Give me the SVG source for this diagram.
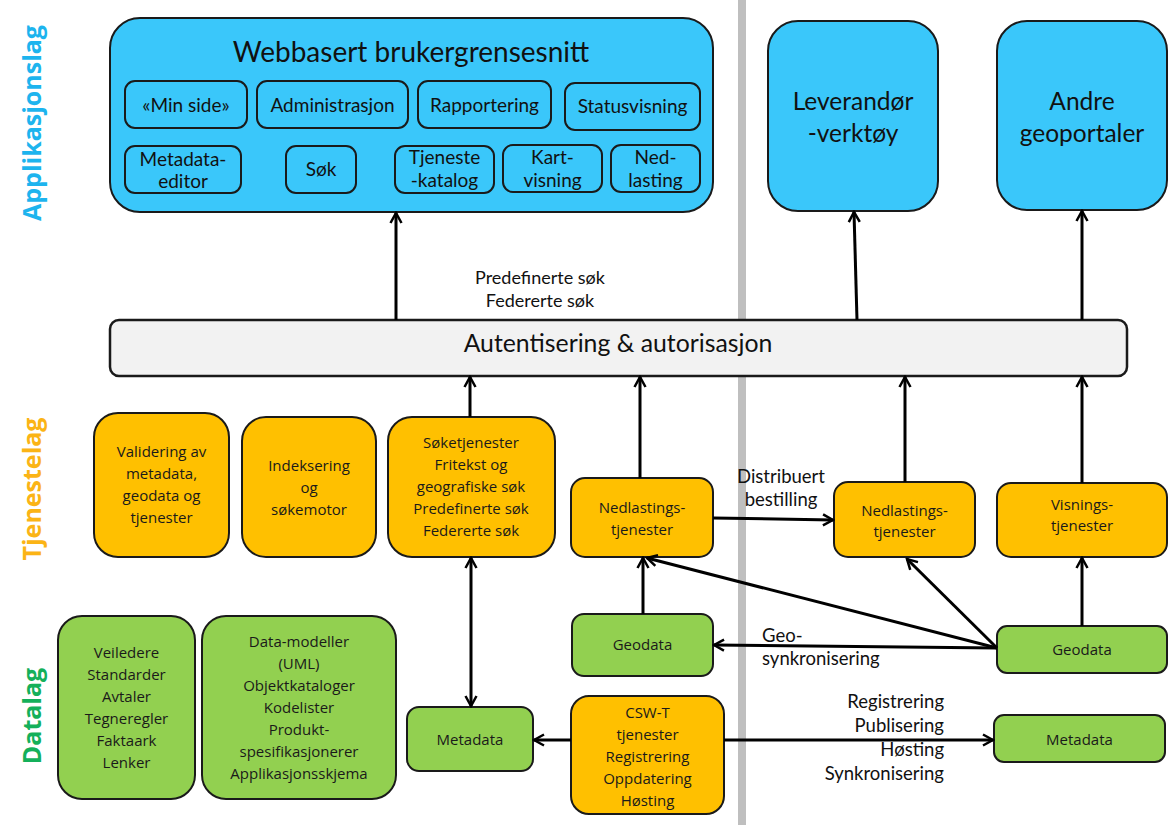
<svg xmlns="http://www.w3.org/2000/svg" width="1168" height="825" viewBox="0 0 1168 825">
<style>
.blue{fill:#3ac7fa;stroke:#1a1a1a;stroke-width:2}
.sub{fill:#3ac7fa;stroke:#1a1a1a;stroke-width:2}
.orange{fill:#ffc000;stroke:#1a1a1a;stroke-width:2}
.green{fill:#92d050;stroke:#1a1a1a;stroke-width:2}
.bar{fill:#f2f2f2;stroke:#1a1a1a;stroke-width:2.5}
.cal{font-family:Lato,"Liberation Sans",sans-serif;fill:#111}
.sb{font-size:19px}
.lb{font-size:18.5px}
.seg{font-family:"Open Sans","Liberation Sans",sans-serif;fill:#1a1a1a;font-size:15px;text-anchor:middle}
.mid{text-anchor:middle}
.side{font-family:"Open Sans","Liberation Sans",sans-serif;font-weight:bold;font-size:25px;text-anchor:middle}
.con{fill:none;stroke:#000;stroke-width:3}
</style>
<defs>
<marker id="ah" viewBox="0 0 14 14" refX="12" refY="7" markerWidth="14" markerHeight="14" markerUnits="userSpaceOnUse" orient="auto-start-reverse">
<path d="M2,1.5 L12,7 L2,12.5" fill="none" stroke="#000" stroke-width="2.5"/>
</marker>
</defs>
<rect width="1168" height="825" fill="#fff"/>
<rect id="divider" x="738" y="0" width="8" height="825" fill="#bfbfbf"/>

<g id="layer-labels">
<text class="side" fill="#1db4ee" transform="translate(41,123) rotate(-90)">Applikasjonslag</text>
<text class="side" fill="#fbb416" transform="translate(41,489) rotate(-90)">Tjenestelag</text>
<text class="side" fill="#14b05a" transform="translate(41,716) rotate(-90)">Datalag</text>
</g>

<g id="webbasert">
<rect class="blue" x="110" y="18" width="603" height="194" rx="30"/>
<text class="cal mid" x="411" y="62" font-size="28">Webbasert brukergrensesnitt</text>
</g>
<g id="minside"><rect class="sub" x="125" y="81" width="122" height="47" rx="10"/><text class="cal mid sb" x="186" y="112">«Min side»</text></g>
<g id="administrasjon"><rect class="sub" x="257" y="81" width="151" height="47" rx="10"/><text class="cal mid sb" x="332.5" y="112">Administrasjon</text></g>
<g id="rapportering"><rect class="sub" x="418" y="81" width="133" height="47" rx="10"/><text class="cal mid sb" x="484.5" y="112">Rapportering</text></g>
<g id="statusvisning"><rect class="sub" x="565" y="83" width="135" height="47" rx="10"/><text class="cal mid sb" x="632.5" y="113">Statusvisning</text></g>
<g id="metadataeditor"><rect class="sub" x="125" y="146" width="116" height="47" rx="10"/><text class="cal mid sb" x="183" y="166">Metadata-</text><text class="cal mid sb" x="183" y="188">editor</text></g>
<g id="sok"><rect class="sub" x="286" y="146" width="70" height="47" rx="10"/><text class="cal mid sb" x="321" y="176">Søk</text></g>
<g id="tjenestekatalog"><rect class="sub" x="395" y="146" width="99" height="47" rx="10"/><text class="cal mid sb" x="444.5" y="164">Tjeneste</text><text class="cal mid sb" x="444.5" y="187">-katalog</text></g>
<g id="kartvisning"><rect class="sub" x="503" y="145" width="99" height="47" rx="10"/><text class="cal mid sb" x="552.5" y="164">Kart-</text><text class="cal mid sb" x="552.5" y="187">visning</text></g>
<g id="nedlasting"><rect class="sub" x="611" y="145" width="89" height="47" rx="10"/><text class="cal mid sb" x="655.5" y="164">Ned-</text><text class="cal mid sb" x="655.5" y="187">lasting</text></g>

<g id="leverandor"><rect class="blue" x="768" y="21" width="170" height="190" rx="30"/><text class="cal mid" x="853" y="110" font-size="24.5">Leverandør</text><text class="cal mid" x="853" y="142" font-size="24.5">-verktøy</text></g>
<g id="andre"><rect class="blue" x="997" y="21" width="170" height="189" rx="30"/><text class="cal mid" x="1082" y="110" font-size="24.5">Andre</text><text class="cal mid" x="1082" y="142" font-size="24.5">geoportaler</text></g>

<g id="auth"><rect class="bar" x="110" y="320" width="1017" height="56" rx="9"/><text class="cal mid" x="618" y="352" font-size="24.8">Autentisering &amp; autorisasjon</text></g>

<g id="validering"><rect class="orange" x="94" y="413" width="135" height="144" rx="24"/>
<text class="seg" x="161.5" y="457">Validering av</text><text class="seg" x="161.5" y="479">metadata,</text><text class="seg" x="161.5" y="501">geodata og</text><text class="seg" x="161.5" y="523">tjenester</text></g>
<g id="indeksering"><rect class="orange" x="242" y="417" width="134" height="140" rx="24"/>
<text class="seg" x="309" y="471">Indeksering</text><text class="seg" x="309" y="493">og</text><text class="seg" x="309" y="515">søkemotor</text></g>
<g id="soketjenester"><rect class="orange" x="388" y="417" width="167" height="140" rx="24"/>
<text class="seg" x="471" y="448">Søketjenester</text><text class="seg" x="471" y="470">Fritekst og</text><text class="seg" x="471" y="492">geografiske søk</text><text class="seg" x="471" y="514">Predefinerte søk</text><text class="seg" x="471" y="536">Federerte søk</text></g>
<g id="nedlastings1"><rect class="orange" x="571" y="478" width="142" height="79" rx="14"/>
<text class="seg" x="642" y="513">Nedlastings-</text><text class="seg" x="642" y="535">tjenester</text></g>
<g id="nedlastings2"><rect class="orange" x="834" y="482" width="141" height="75" rx="14"/>
<text class="seg" x="904.5" y="516">Nedlastings-</text><text class="seg" x="904.5" y="537">tjenester</text></g>
<g id="visnings"><rect class="orange" x="997" y="483" width="170" height="74" rx="14"/>
<text class="seg" x="1082" y="510">Visnings-</text><text class="seg" x="1082" y="531">tjenester</text></g>

<g id="veiledere"><rect class="green" x="58" y="616" width="137" height="183" rx="24"/>
<text class="seg" x="126.5" y="658">Veiledere</text><text class="seg" x="126.5" y="680">Standarder</text><text class="seg" x="126.5" y="702">Avtaler</text><text class="seg" x="126.5" y="724">Tegneregler</text><text class="seg" x="126.5" y="746">Faktaark</text><text class="seg" x="126.5" y="768">Lenker</text></g>
<g id="datamodeller"><rect class="green" x="202" y="616" width="194" height="183" rx="24"/>
<text class="seg" x="299" y="647">Data-modeller</text><text class="seg" x="299" y="669">(UML)</text><text class="seg" x="299" y="691">Objektkataloger</text><text class="seg" x="299" y="713">Kodelister</text><text class="seg" x="299" y="735">Produkt-</text><text class="seg" x="299" y="757">spesifikasjonerer</text><text class="seg" x="299" y="779">Applikasjonsskjema</text></g>
<g id="metadata1"><rect class="green" x="407" y="707" width="126" height="64" rx="12"/><text class="seg" x="470" y="745">Metadata</text></g>
<g id="geodata1"><rect class="green" x="572" y="614" width="141" height="62" rx="12"/><text class="seg" x="642.5" y="650">Geodata</text></g>
<g id="cswt"><rect class="orange" x="571" y="696" width="153" height="118" rx="18"/>
<text class="seg" x="647.5" y="718">CSW-T</text><text class="seg" x="647.5" y="740">tjenester</text><text class="seg" x="647.5" y="762">Registrering</text><text class="seg" x="647.5" y="784">Oppdatering</text><text class="seg" x="647.5" y="806">Høsting</text></g>
<g id="geodata2"><rect class="green" x="997" y="626" width="170" height="47" rx="10"/><text class="seg" x="1082" y="655">Geodata</text></g>
<g id="metadata2"><rect class="green" x="994" y="715" width="171" height="47" rx="10"/><text class="seg" x="1079.5" y="745">Metadata</text></g>

<g id="connectors">
<line class="con" x1="396" y1="320" x2="396" y2="213" marker-end="url(#ah)"/>
<line class="con" x1="857" y1="320" x2="854" y2="212" marker-end="url(#ah)"/>
<line class="con" x1="1082" y1="320" x2="1082" y2="211" marker-end="url(#ah)"/>
<line class="con" x1="470" y1="417" x2="470" y2="377" marker-end="url(#ah)"/>
<line class="con" x1="640" y1="478" x2="640" y2="377" marker-end="url(#ah)"/>
<line class="con" x1="905" y1="482" x2="905" y2="377" marker-end="url(#ah)"/>
<line class="con" x1="1082" y1="483" x2="1082" y2="377" marker-end="url(#ah)"/>
<line class="con" x1="713" y1="518" x2="833" y2="520" marker-end="url(#ah)"/>
<line class="con" x1="471" y1="558" x2="471" y2="706" marker-start="url(#ah)" marker-end="url(#ah)"/>
<line class="con" x1="643" y1="614" x2="643" y2="558" marker-end="url(#ah)"/>
<line class="con" x1="997" y1="648" x2="647" y2="558" marker-end="url(#ah)"/>
<line class="con" x1="997" y1="648" x2="907" y2="559" marker-end="url(#ah)"/>
<line class="con" x1="997" y1="648" x2="714" y2="645" marker-end="url(#ah)"/>
<line class="con" x1="1082" y1="626" x2="1082" y2="558" marker-end="url(#ah)"/>
<line class="con" x1="571" y1="740" x2="534" y2="740" marker-end="url(#ah)"/>
<line class="con" x1="724" y1="740" x2="993" y2="740" marker-end="url(#ah)"/>
</g>

<g id="connector-labels">
<text class="cal mid" x="540" y="284" font-size="18">Predefinerte søk</text>
<text class="cal mid" x="540" y="307" font-size="18">Federerte søk</text>
<text class="cal mid lb" x="781" y="483">Distribuert</text>
<text class="cal mid lb" x="781" y="506">bestilling</text>
<text class="cal lb" x="762" y="642">Geo-</text>
<text class="cal lb" x="762" y="665">synkronisering</text>
<text class="cal lb" x="944" y="708" text-anchor="end">Registrering</text>
<text class="cal lb" x="944" y="732" text-anchor="end">Publisering</text>
<text class="cal lb" x="944" y="756" text-anchor="end">Høsting</text>
<text class="cal lb" x="944" y="780" text-anchor="end">Synkronisering</text>
</g>
</svg>
